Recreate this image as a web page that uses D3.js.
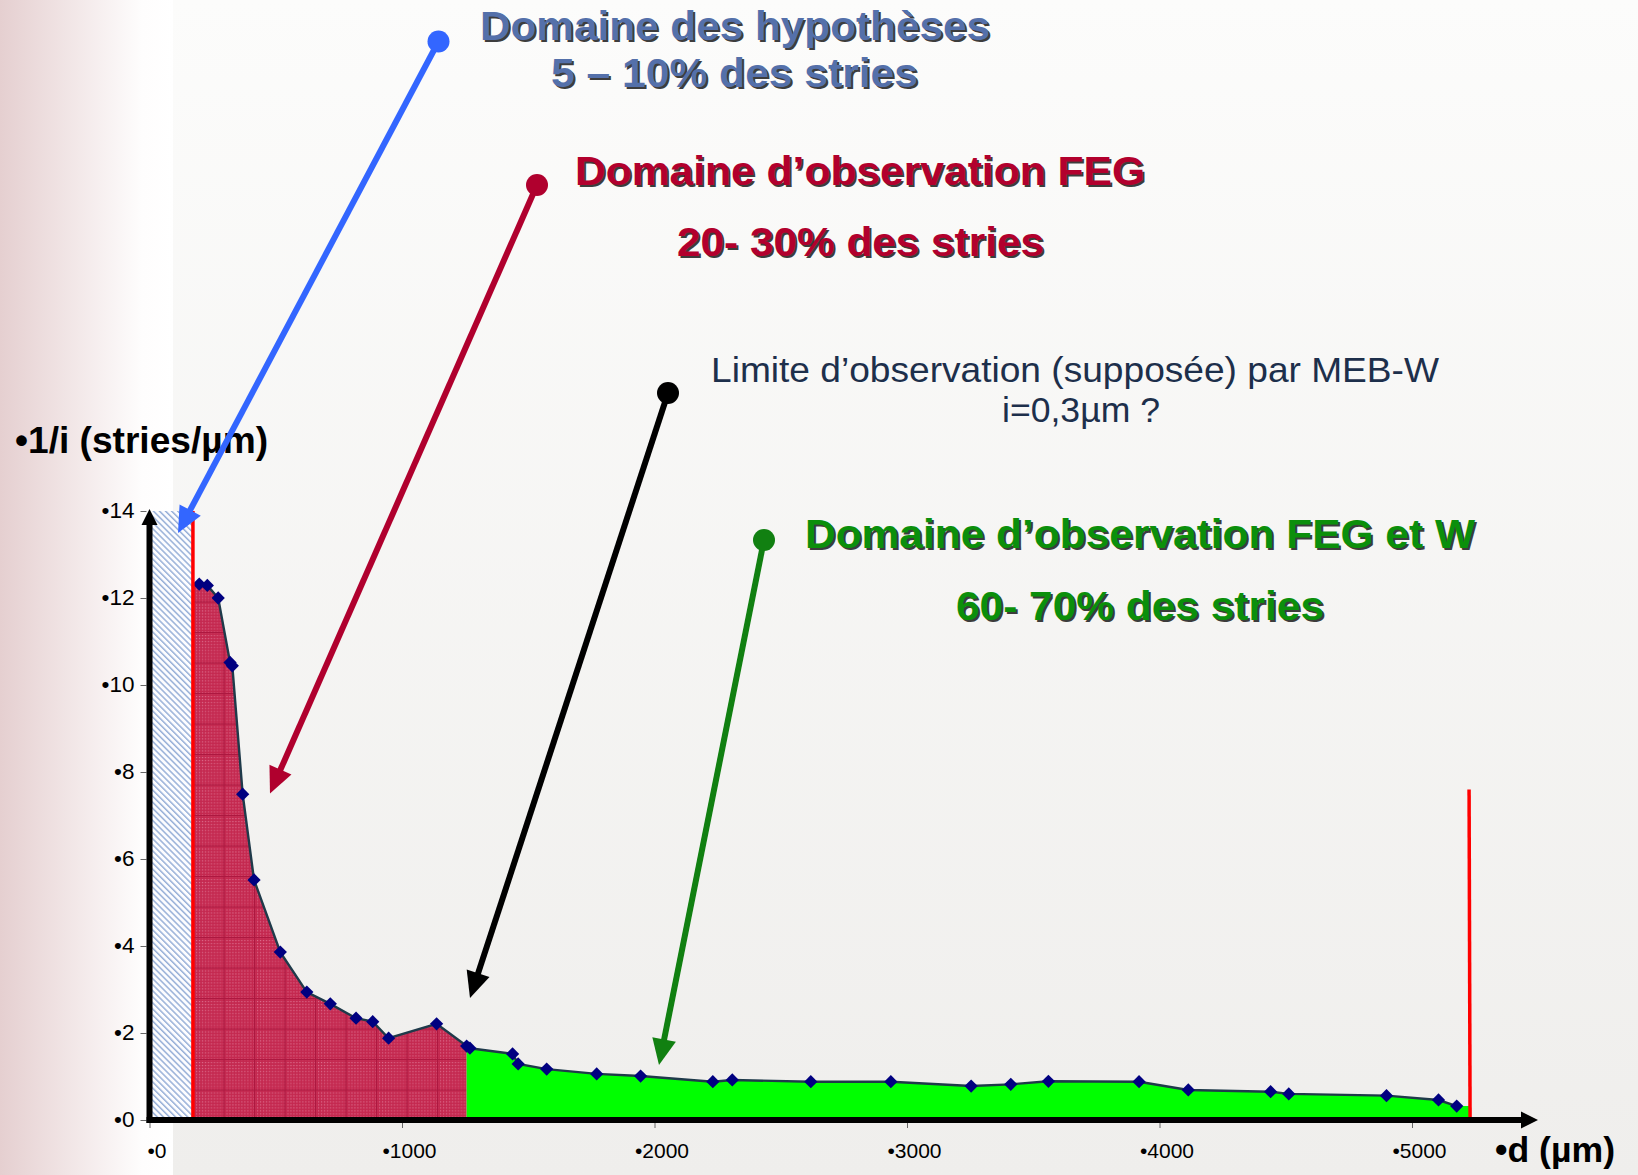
<!DOCTYPE html>
<html>
<head>
<meta charset="utf-8">
<script src="https://cdn.jsdelivr.net/npm/d3@7/dist/d3.min.js"></script>
<style>
  html, body { margin: 0; padding: 0; background: #fafaf9; }
  svg { display: block; font-family: "Liberation Sans", Arial, sans-serif; }
</style>
</head>
<body>
<svg id="chart" width="1638" height="1175"></svg>
<script>
// ---- data ----
const dValues = [197, 229, 272, 319, 328, 369, 414, 518, 623, 716, 818, 884, 947, 1137, 1256, 1269,
  1438, 1460, 1573, 1771, 1945, 2231, 2308, 2619, 2936, 3254, 3411, 3560, 3919, 4114, 4440, 4512,
  4899, 5105, 5177];
const invIValues = [12.32, 12.29, 12.0, 10.52, 10.44, 7.49, 5.52, 3.86, 2.94, 2.67, 2.34, 2.26, 1.88,
  2.21, 1.70, 1.65, 1.52, 1.29, 1.17, 1.06, 1.01, 0.88, 0.92, 0.88, 0.88, 0.78, 0.82, 0.89, 0.88,
  0.69, 0.65, 0.60, 0.56, 0.46, 0.32];
const xTickValues = [0, 1000, 2000, 3000, 4000, 5000];
const xTickLabels = ["•0", "•1000", "•2000", "•3000", "•4000", "•5000"];
const yTickValues = [0, 2, 4, 6, 8, 10, 12, 14];
const yTickLabels = ["•0", "•2", "•4", "•6", "•8", "•10", "•12", "•14"];
const hypothesisLimit = 172;   // d where the hypothesis domain ends (left red line)
const fegLimit = 1256;         // d where the FEG-only domain ends
const rightLimit = 5230;       // d of the right red line
const rightLimitTop = 7.6;     // height of the right red line (in 1/i units)
const yMax = 14;

const svg = d3.select("#chart");
const W = 1638, H = 1175;

// ---- scales ----
const x = d3.scaleLinear().domain([0, 5000]).range([149.5, 1412]);
const y = d3.scaleLinear().domain([0, 14]).range([1120, 511]);

const defs = svg.append("defs");
// background gradients
const gBg = defs.append("linearGradient").attr("id", "bgV").attr("x1", 0).attr("y1", 0).attr("x2", 0).attr("y2", 1);
gBg.append("stop").attr("offset", 0).attr("stop-color", "#fcfcfb");
gBg.append("stop").attr("offset", 1).attr("stop-color", "#efeeec");
const gL = defs.append("linearGradient").attr("id", "bgL").attr("x1", 0).attr("y1", 0).attr("x2", 1).attr("y2", 0);
gL.append("stop").attr("offset", 0).attr("stop-color", "#e5cfd0");
gL.append("stop").attr("offset", 0.82).attr("stop-color", "#fefdfd");
gL.append("stop").attr("offset", 1).attr("stop-color", "#ffffff");

// hatch pattern
const hatch = defs.append("pattern").attr("id", "hatch").attr("patternUnits", "userSpaceOnUse")
  .attr("width", 4.3).attr("height", 10).attr("patternTransform", "rotate(-45)");
hatch.append("rect").attr("width", 4.3).attr("height", 10).attr("fill", "#fdfdff");
hatch.append("rect").attr("x", 0).attr("width", 1.5).attr("height", 10).attr("fill", "#98b0d8");

// red fine dots + grid pattern
const dots = defs.append("pattern").attr("id", "dots").attr("patternUnits", "userSpaceOnUse")
  .attr("width", 3).attr("height", 3);
dots.append("rect").attr("width", 3).attr("height", 3).attr("fill", "#c4284f");
dots.append("rect").attr("width", 1).attr("height", 1).attr("fill", "#e07896");
const grid = defs.append("pattern").attr("id", "redgrid").attr("patternUnits", "userSpaceOnUse")
  .attr("x", 193).attr("y", 1120).attr("width", 30.5).attr("height", 30.5);
grid.append("rect").attr("width", 30.5).attr("height", 30.5).attr("fill", "url(#dots)");
grid.append("path").attr("d", "M0,0.5H30.5M0.5,0V30.5").attr("stroke", "#ad1840").attr("stroke-width", 1.1);

// ---- background ----
svg.append("rect").attr("width", W).attr("height", H).attr("fill", "url(#bgV)");
svg.append("rect").attr("width", 173).attr("height", H).attr("fill", "url(#bgL)");

// ---- areas ----
const pts = dValues.map((d, i) => ({ d, v: invIValues[i] }));
const redPts = [{ d: hypothesisLimit, v: pts[0].v }].concat(pts.filter(p => p.d <= fegLimit));
const greenPts = pts.filter(p => p.d >= fegLimit).concat([{ d: rightLimit, v: pts[pts.length - 1].v }]);
const area = d3.area().x(p => x(p.d)).y0(y(0)).y1(p => y(p.v));

// hypothesis hatched zone
svg.append("rect").attr("x", x(0)).attr("y", y(yMax))
  .attr("width", x(hypothesisLimit) - x(0)).attr("height", y(0) - y(yMax))
  .attr("fill", "url(#hatch)");
svg.append("path").datum(redPts).attr("d", area).attr("fill", "url(#redgrid)");
svg.append("path").datum(greenPts).attr("d", area).attr("fill", "#00ff00");

// line
const line = d3.line().x(p => x(p.d)).y(p => y(p.v));
svg.append("path").datum([{ d: hypothesisLimit, v: pts[0].v }].concat(pts)).attr("d", line)
  .attr("fill", "none").attr("stroke", "#1f3a4a").attr("stroke-width", 2.4);

// markers (diamonds)
const sym = d3.symbol(d3.symbolSquare, 88);
svg.append("g").selectAll("path").data(pts).join("path")
  .attr("d", sym)
  .attr("transform", p => `translate(${x(p.d)},${y(p.v)}) rotate(45)`)
  .attr("fill", "#000080");

// red limit lines
svg.append("line").attr("x1", x(hypothesisLimit)).attr("x2", x(hypothesisLimit))
  .attr("y1", y(yMax)).attr("y2", y(0)).attr("stroke", "#ff0000").attr("stroke-width", 3.5);
svg.append("line").attr("x1", x(rightLimit) - 1).attr("x2", x(rightLimit))
  .attr("y1", y(rightLimitTop)).attr("y2", y(0)).attr("stroke", "#ff0000").attr("stroke-width", 3.5);

// ---- axes ----
const xAxis = d3.axisBottom(x).tickValues(xTickValues).tickSize(5).tickPadding(15)
  .tickFormat((d, i) => xTickLabels[i]);
const gx = svg.append("g").attr("transform", `translate(0,${y(0) + 3})`).call(xAxis);
gx.select(".domain").remove();
gx.selectAll(".tick line").attr("stroke", "#666");
gx.selectAll(".tick text").attr("font-size", 21).attr("fill", "#000").attr("dx", 7)
  .attr("font-family", "Liberation Sans, Arial, sans-serif");

const yAxis = d3.axisLeft(y).tickValues(yTickValues).tickSize(6).tickPadding(6)
  .tickFormat((d, i) => yTickLabels[i]);
const gy = svg.append("g").attr("transform", `translate(${x(0) - 3},0)`).call(yAxis);
gy.select(".domain").remove();
gy.selectAll(".tick line").attr("stroke", "#666");
gy.selectAll(".tick text").attr("font-size", 22.5).attr("fill", "#000").attr("dy", "0.28em")
  .attr("font-family", "Liberation Sans, Arial, sans-serif");

// axis lines with arrowheads
svg.append("line").attr("x1", x(0) - 3).attr("x2", 1522).attr("y1", y(0)).attr("y2", y(0))
  .attr("stroke", "#000").attr("stroke-width", 6);
svg.append("path").attr("d", `M1521,${y(0) - 8.5}L1538,${y(0)}L1521,${y(0) + 8.5}Z`).attr("fill", "#000");
svg.append("line").attr("x1", x(0)).attr("x2", x(0)).attr("y1", y(0) + 3).attr("y2", 524)
  .attr("stroke", "#000").attr("stroke-width", 6);
svg.append("path").attr("d", `M${x(0) - 8},525L${x(0)},509L${x(0) + 8},525Z`).attr("fill", "#000");

// axis titles
svg.append("text").attr("x", 15).attr("y", 453).attr("font-size", 36).attr("font-weight", "bold")
  .attr("textLength", 253).attr("lengthAdjust", "spacingAndGlyphs").text("•1/i (stries/µm)");
svg.append("text").attr("x", 1495).attr("y", 1162).attr("font-size", 35).attr("font-weight", "bold")
  .attr("textLength", 120).attr("lengthAdjust", "spacingAndGlyphs").text("•d (µm)");

// ---- annotation arrows ----
const arrows = [
  { x1: 438.5, y1: 41.5, x2: 178, y2: 533, color: "#3366ff" },
  { x1: 537, y1: 185, x2: 270, y2: 793.5, color: "#b0002e" },
  { x1: 668, y1: 393, x2: 470, y2: 998, color: "#000000" },
  { x1: 764, y1: 540, x2: 659, y2: 1065, color: "#118011" }
];
arrows.forEach(a => {
  const g = svg.append("g");
  const ang = Math.atan2(a.y2 - a.y1, a.x2 - a.x1);
  const L = 26, hw = 12;
  const bx = a.x2 - L * Math.cos(ang), by = a.y2 - L * Math.sin(ang);
  g.append("line").attr("x1", a.x1).attr("y1", a.y1).attr("x2", bx + 2 * Math.cos(ang)).attr("y2", by + 2 * Math.sin(ang))
    .attr("stroke", a.color).attr("stroke-width", 6);
  g.append("circle").attr("cx", a.x1).attr("cy", a.y1).attr("r", 11).attr("fill", a.color);
  const px = -Math.sin(ang), py = Math.cos(ang);
  g.append("path").attr("d", `M${a.x2},${a.y2}L${bx + hw * px},${by + hw * py}L${bx - hw * px},${by - hw * py}Z`)
    .attr("fill", a.color);
});

// ---- annotation texts ----
const labels = [
  { t: "Domaine des hypothèses", x: 480, y: 40, len: 510, c: "#5470aa", b: true, fs: 41 },
  { t: "5 – 10% des stries", x: 551, y: 87, len: 367, c: "#5470aa", b: true, fs: 41 },
  { t: "Domaine d’observation FEG", x: 575, y: 185, len: 570, c: "#b2002d", b: true, fs: 41 },
  { t: "20- 30% des stries", x: 677, y: 256, len: 367, c: "#b2002d", b: true, fs: 41 },
  { t: "Limite d’observation (supposée) par MEB-W", x: 711, y: 382, len: 728, c: "#1d2f4b", b: false, fs: 35 },
  { t: "i=0,3µm ?", x: 1002, y: 422, len: 158, c: "#1d2f4b", b: false, fs: 35 },
  { t: "Domaine d’observation FEG et W", x: 805, y: 548, len: 670, c: "#0b8f0b", b: true, fs: 41 },
  { t: "60- 70% des stries", x: 956, y: 620, len: 368, c: "#0b8f0b", b: true, fs: 41 }
];
labels.forEach(l => {
  if (l.b) {
    svg.append("text").attr("x", l.x + 2).attr("y", l.y + 2).attr("font-size", l.fs).attr("font-weight", "bold")
      .attr("textLength", l.len).attr("lengthAdjust", "spacingAndGlyphs").attr("fill", "#1a1a1a")
      .attr("fill-opacity", 0.85).text(l.t);
  }
  svg.append("text").attr("x", l.x).attr("y", l.y).attr("font-size", l.fs)
    .attr("font-weight", l.b ? "bold" : "normal")
    .attr("textLength", l.len).attr("lengthAdjust", "spacingAndGlyphs").attr("fill", l.c).text(l.t);
});
</script>
</body>
</html>
